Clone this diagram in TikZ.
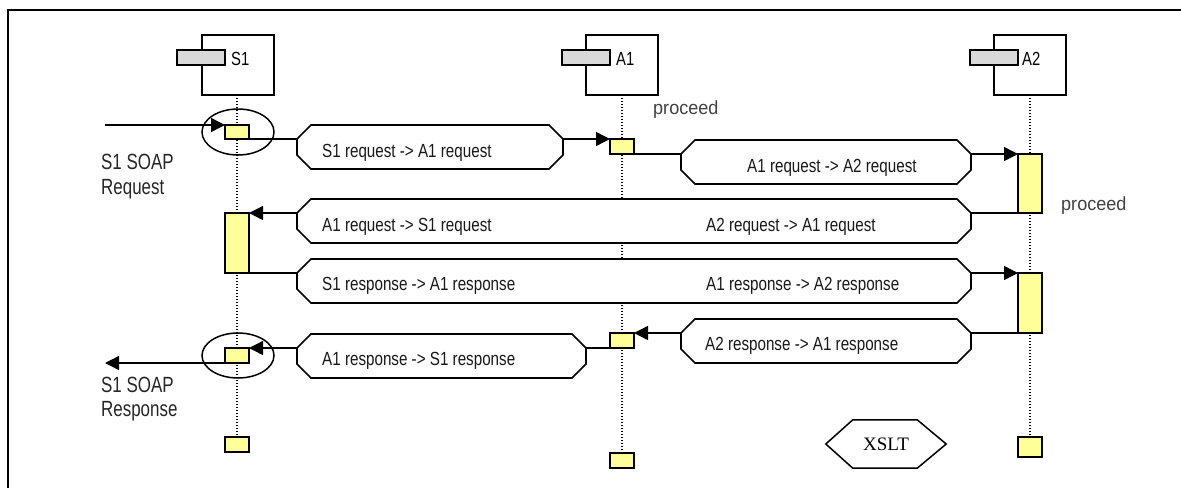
\documentclass[tikz,border=0pt]{standalone}
\usepackage{fontspec}
\setmainfont{Liberation Sans}
\newfontfamily\narrowfont[FakeStretch=0.80]{Liberation Sans}
\newfontfamily\sidefont[FakeStretch=0.77]{Liberation Sans}
\newfontfamily\headfont[FakeStretch=0.78]{Liberation Sans}
\newfontfamily\procfont[FakeStretch=0.95]{Liberation Sans}
\newfontfamily\seriffont{Liberation Serif}
\usetikzlibrary{arrows.meta,calc,shapes.geometric}
\definecolor{actyellow}{RGB}{255,255,153}
\definecolor{tabgray}{RGB}{217,217,217}
\definecolor{textgray}{RGB}{64,64,64}
\tikzset{
  head/.style={draw, line width=1.5pt, minimum width=72pt, minimum height=60pt, inner sep=0pt, outer sep=0pt, fill=white},
  tab/.style={draw, line width=1.5pt, fill=tabgray, minimum width=48pt, minimum height=15pt, inner sep=0pt},
  headlabel/.style={anchor=base west, inner sep=0pt, font=\headfont\fontsize{19}{21}\selectfont},
  act/.style={draw, line width=1.5pt, fill=actyellow, minimum width=24pt, inner sep=0pt, outer sep=0pt},
  life/.style={line width=1.1pt, dash pattern=on 1.2pt off 1.8pt},
  msgbox/.style={inner sep=0pt, outer sep=0pt, minimum height=44pt},
  octline/.style={line width=1.6pt, line join=miter, fill=white},
  msgtext/.style={anchor=base west, inner sep=0pt, font=\narrowfont\fontsize{19}{21}\selectfont, text=black!90},
  conn/.style={line width=1.4pt},
  arr/.style={conn, -{Triangle[length=14pt,width=14pt]}},
  side/.style={anchor=base west, inner sep=0pt, font=\sidefont\fontsize{22}{24}\selectfont, text=black!85},
  proc/.style={anchor=base west, inner sep=0pt, font=\procfont\fontsize{19}{21}\selectfont, text=textgray},
  ring/.style={draw, ellipse, line width=1.5pt, minimum width=72pt, minimum height=46pt, inner sep=0pt},
}
\newcommand\octo[1]{%
  \draw[octline] ($(#1.north west)+(14,0)$) -- ($(#1.north east)+(-14,0)$) -- ($(#1.north east)+(0,14)$) -- ($(#1.south east)+(0,-14)$) -- ($(#1.south east)+(-14,0)$) -- ($(#1.south west)+(14,0)$) -- ($(#1.south west)+(0,-14)$) -- ($(#1.north west)+(0,14)$) -- cycle;
  \coordinate (#1-l) at ($(#1.north west)+(0,14)$);
  \coordinate (#1-r) at ($(#1.north east)+(0,14)$);}
\begin{document}
\begin{tikzpicture}[x=1pt, y=-1pt]
\useasboundingbox (0,0) rectangle (1181,488);
% frame
\draw[line width=2pt] (1181,10) -- (8,10) -- (8,488);

% heads
\node[head] (S1) at (238,65) {};
\node[tab] (S1tab) at (201,57.5) {};
\node[headlabel] (S1lab) at (231,65) {S1};
\node[head] (A1) at (622,65) {};
\node[tab] (A1tab) at (586,57.5) {};
\node[headlabel] (A1lab) at (616,65) {A1};
\node[head] (A2) at (1030,65) {};
\node[tab] (A2tab) at (994,57.5) {};
\node[headlabel] (A2lab) at (1022,65) {A2};

% activation boxes (positions)
\path (237,444.5) node[act, minimum height=15pt] (s1d) {};
\path (622,460.5) node[act, minimum height=15pt] (a1d) {};
\path (1030,447) node[act, minimum height=20pt] (a2d) {};

% lifelines
\draw[life] (237,95) -- (s1d.north);
\draw[life] (622,95) -- (a1d.north);
\draw[life] (1030,95) -- (a2d.north);

\node[act, minimum height=14pt] (s1a) at (237,132) {};
\node[act, minimum height=15pt] (a1a) at (622,146.5) {};
\node[act, minimum height=59pt] (a2a) at (1030,183.5) {};
\node[act, minimum height=60pt] (s1b) at (237,243) {};
\node[act, minimum height=60pt] (a2b) at (1030,303) {};
\node[act, minimum height=15pt] (a1b) at (622,340.5) {};
\node[act, minimum height=15pt] (s1c) at (237,355.5) {};

% message boxes
\node[msgbox, minimum width=266pt] (h1) at (430,147) {};
\octo{h1}
\node[msgbox, minimum width=290pt] (h2) at (826,162) {};
\octo{h2}
\node[msgbox, minimum width=674pt] (h3) at (634,221) {};
\octo{h3}
\node[msgbox, minimum width=674pt] (h4) at (634,281) {};
\octo{h4}
\node[msgbox, minimum width=290pt] (h5) at (826,341) {};
\octo{h5}
\node[msgbox, minimum width=289pt] (h6) at (441.5,356) {};
\octo{h6}

\node[msgtext] (t1) at (322,157) {S1 request -> A1 request};
\node[msgtext] (t2) at (747,172) {A1 request -> A2 request};
\node[msgtext] (t3a) at (322,231) {A1 request -> S1 request};
\node[msgtext] (t3b) at (706,231) {A2 request -> A1 request};
\node[msgtext] (t4a) at (322,290) {S1 response -> A1 response};
\node[msgtext] (t4b) at (706,290) {A1 response -> A2 response};
\node[msgtext] (t5) at (705,350) {A2 response -> A1 response};
\node[msgtext] (t6) at (322,365) {A1 response -> S1 response};

% connectors
\coordinate (in) at (105,125);
\coordinate (out) at (105,363);
\draw[arr] (in) -- (s1a.north west);
\draw[conn] (s1a.south east) -- (h1-l);
\draw[arr] (h1-r) -- (a1a.north west);
\draw[conn] (a1a.south east) -- (h2-l);
\draw[arr] (h2-r) -- (a2a.north west);
\draw[conn] (a2a.south west) -- (h3-r);
\draw[arr] (h3-l) -- (s1b.north east);
\draw[conn] (s1b.south east) -- (h4-l);
\draw[arr] (h4-r) -- (a2b.north west);
\draw[conn] (a2b.south west) -- (h5-r);
\draw[arr] (h5-l) -- (a1b.north east);
\draw[conn] (a1b.south west) -- (h6-r);
\draw[arr] (h6-l) -- (s1c.north east);
\draw[arr] (s1c.south west) -- (out);

% ellipses
\node[ring] (e1) at (238,132) {};
\node[ring, minimum height=45pt] (e2) at (238,355.5) {};

% side labels
\node[side] (req1) at (101,169) {S1 SOAP};
\node[side] (req2) at (101,194) {Request};
\node[side] (res1) at (101,392) {S1 SOAP};
\node[side] (res2) at (101,416) {Response};
\node[proc] (p1) at (653,114) {proceed};
\node[proc] (p2) at (1061,210) {proceed};

% XSLT
\node[inner sep=0pt, minimum width=120pt, minimum height=48pt, font=\seriffont\fontsize{19}{21}\selectfont] (xslt) at (886,444) {XSLT};
\draw[line width=1.5pt] (xslt.west) -- ($(xslt.north west)+(27,0)$) -- ($(xslt.north east)+(-29,0)$) -- (xslt.east) -- ($(xslt.south east)+(-29,0)$) -- ($(xslt.south west)+(27,0)$) -- cycle;
\end{tikzpicture}
\end{document}
